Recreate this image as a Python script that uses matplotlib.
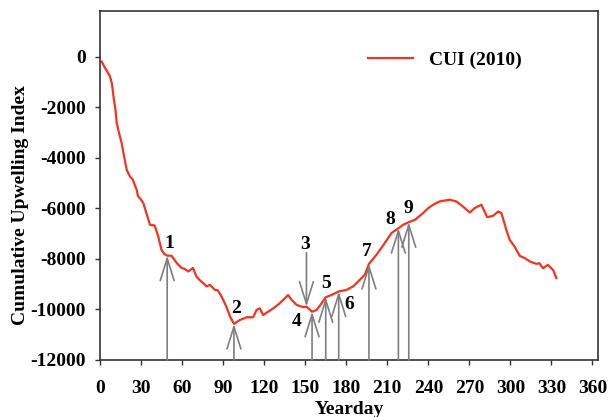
import matplotlib
matplotlib.use('Agg')
import matplotlib.pyplot as plt

# cumulative upwelling index
yearday = [1.2, 3.7, 7.3, 8.8, 9.8, 11.3, 12.2, 13.8, 15.8, 17.8, 19.5, 21.8, 23.8, 26.8,
           27.8, 29.9, 31.7, 33.9, 36.5, 39.9, 42.6, 44.9, 46.9, 48.9, 52.3, 56.0, 59.6,
           62.0, 64.5, 68.0, 70.5, 73.0, 75.5, 77.9, 80.4, 84.1, 86.1, 88.8, 92.4, 95.0,
           97.9, 102.2, 107.2, 112.0, 114.4, 116.8, 119.2, 122.9, 126.6, 131.3, 135.1,
           137.5, 140.0, 143.7, 148.4, 150.9, 155.0, 158.4, 161.4, 165.0, 169.5, 174.5,
           180.1, 185.0, 188.6, 193.6, 196.6, 202.1, 208.1, 213.1, 218.4, 221.7, 225.7,
           230.1, 236.2, 239.8, 243.5, 248.3, 255.7, 260.5, 265.3, 270.3, 273.9, 278.8,
           283.0, 287.3, 291.0, 293.4, 297.0, 299.5, 303.0, 306.8, 310.5, 314.1, 319.0,
           321.1, 323.8, 327.4, 331.2, 333.6]
cui = [-200, -450, -780, -1100, -1570, -2100, -2620, -3000, -3420, -4000, -4480, -4740,
       -4850, -5270, -5530, -5650, -5800, -6190, -6650, -6680, -7120, -7640, -7800, -7870,
       -7880, -8160, -8360, -8400, -8500, -8360, -8700, -8850, -8960, -9090, -9030, -9230,
       -9240, -9490, -9890, -10280, -10570, -10420, -10310, -10310, -10020, -9960, -10220,
       -10090, -9960, -9760, -9560, -9430, -9620, -9820, -9910, -9890, -10090, -10020,
       -9800, -9520, -9420, -9290, -9230, -9090, -8900, -8630, -8200, -7840, -7380, -6980,
       -6780, -6650, -6550, -6460, -6190, -6000, -5860, -5730, -5660, -5730, -5930, -6170,
       -5990, -5860, -6350, -6300, -6130, -6190, -6850, -7250, -7510, -7880, -7970, -8100,
       -8200, -8170, -8370, -8240, -8440, -8760]

# event markers: label, arrow tip (day, value), label position
event_labels = ['1', '2', '3', '4', '5', '6', '7', '8', '9']
event_days = [49.1, 97.9, 150.9, 155.0, 165.0, 174.5, 196.6, 218.1, 225.7]
event_values = [-7870, -10570, -9890, -10090, -9520, -9290, -8200, -6780, -6550]
label_days = [50.4, 99.4, 149.8, 143.6, 165.5, 182.1, 194.8, 212.4, 225.2]
label_values = [-7410, -9980, -7450, -10480, -8960, -9820, -7710, -6460, -5990]
from_top = [False, False, True, False, False, False, False, False, False]

plt.rcParams['font.family'] = ['Liberation Serif', 'DejaVu Serif']
plt.rcParams['font.weight'] = 'bold'
plt.rcParams['axes.unicode_minus'] = False

fig = plt.figure(figsize=(6.08, 4.17), dpi=100)
ax = fig.add_axes([0.1645, 0.1367, 0.819, 0.8369])

ax.plot(yearday, cui, color='#f23420', lw=1.6, label='CUI (2010)')

for lab, d, v, ld, lv, top in zip(event_labels, event_days, event_values,
                                  label_days, label_values, from_top):
    start = (d, -7760) if top else (d, -12000)
    ax.annotate('', xy=(d, v), xytext=start,
                arrowprops=dict(arrowstyle='->,head_length=1.6,head_width=0.5',
                                color='#7f7f7f', lw=1.2, shrinkA=0, shrinkB=0))
    ax.text(ld, lv, lab, ha='center', va='center', fontsize=14, fontweight='bold')

ax.set_xlim(0, 364)
ax.set_ylim(-12000, 1800)
ax.set_xticks(range(0, 361, 30))
ax.set_yticks(range(-12000, 1, 2000))
ax.tick_params(direction='out', length=3.6, width=1, labelsize=14, colors='#333333',
               labelcolor='black')
ax.tick_params(axis='x', pad=10.5)
ax.tick_params(axis='y', pad=6.5)
for s in ax.spines.values():
    s.set_linewidth(1.2)
    s.set_color('#333333')

ax.set_xlabel('Yearday', fontsize=14, fontweight='bold', labelpad=3)
ax.set_ylabel('Cumulative Upwelling Index', fontsize=14, fontweight='bold')
ax.yaxis.set_label_coords(-0.142, 0.444)

ax.legend(loc='center right', bbox_to_anchor=(0.862, 0.86), frameon=False,
          fontsize=14, handlelength=2.3, borderaxespad=0)

fig.savefig('out.png', dpi=100)
